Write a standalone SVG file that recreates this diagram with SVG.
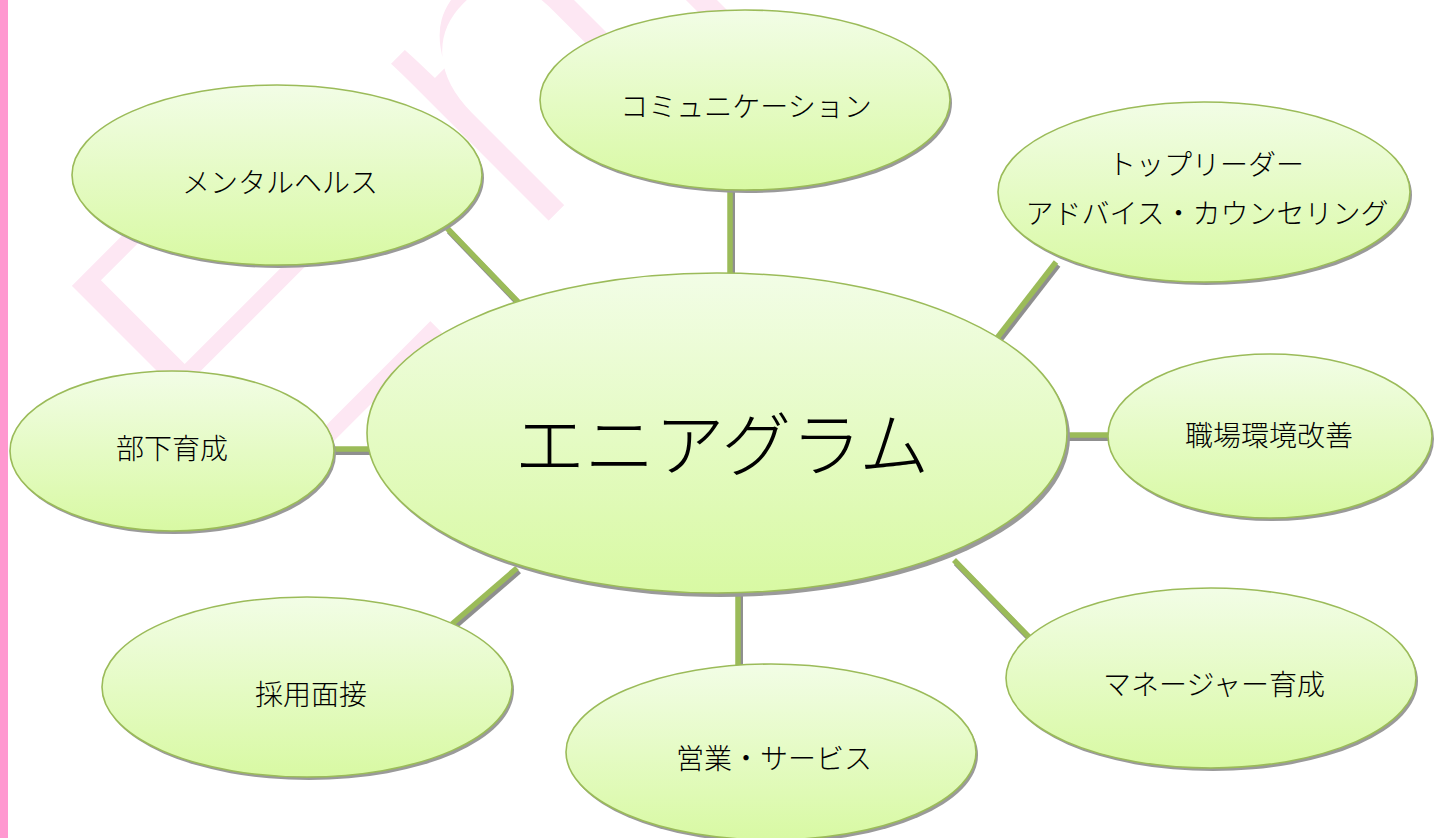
<svg xmlns="http://www.w3.org/2000/svg" width="1443" height="838" viewBox="0 0 1443 838">
<defs>
<linearGradient id="g" x1="0" y1="0" x2="0" y2="1">
<stop offset="0" stop-color="#f2fde6"/>
<stop offset="1" stop-color="#d8f9a3"/>
</linearGradient>
<style>
.wm{font-family:"Liberation Sans",sans-serif;font-size:455px;fill:#fde7f3;stroke:#ffffff;stroke-width:18px}
.sh{fill:#9a9a9a}
.el{fill:url(#g);stroke:#9bbb59;stroke-width:1.6}
.lb{font-family:"Noto Sans CJK JP",sans-serif;font-weight:300;font-size:28px;fill:#000;text-anchor:middle;dominant-baseline:central}
.big{font-size:70px}
.cs{stroke:#8f8f8f;stroke-width:6}
.cl{stroke:#9bbb59;stroke-width:5.5}
</style>
</defs>
<rect width="1443" height="838" fill="#ffffff"/>
<g id="watermark" transform="translate(264,518) rotate(-45)">
<text class="wm" x="-18" y="4">E</text>
<text class="wm" x="371" y="0">nn</text>
</g>
<rect x="0" y="0" width="8" height="838" fill="#ff99d0"/>
<g id="connectors">
<line class="cs" x1="449" y1="231" x2="524" y2="309"/>
<line class="cl" x1="447" y1="228" x2="522" y2="306"/>
<line class="cs" x1="732" y1="190" x2="732" y2="276"/>
<line class="cl" x1="730" y1="190" x2="730" y2="276"/>
<line class="cs" x1="1058" y1="265" x2="999" y2="341"/>
<line class="cl" x1="1056" y1="262" x2="997" y2="338"/>
<line class="cs" x1="1066" y1="438" x2="1110" y2="438"/>
<line class="cl" x1="1066" y1="435" x2="1110" y2="435"/>
<line class="cs" x1="956" y1="563" x2="1031" y2="640"/>
<line class="cl" x1="954" y1="560" x2="1029" y2="637"/>
<line class="cs" x1="740" y1="590" x2="740" y2="672"/>
<line class="cl" x1="738" y1="590" x2="738" y2="672"/>
<line class="cs" x1="519" y1="571" x2="454" y2="627"/>
<line class="cl" x1="517" y1="568" x2="452" y2="624"/>
<line class="cs" x1="332" y1="452" x2="370" y2="452"/>
<line class="cl" x1="332" y1="449" x2="370" y2="449"/>
</g>
<g id="node-mental">
<ellipse class="sh" cx="279" cy="178" rx="205" ry="90"/>
<ellipse class="el" cx="277" cy="175" rx="205" ry="90"/>
<text class="lb" x="280" y="181">メンタルヘルス</text>
</g>
<g id="node-communication">
<ellipse class="sh" cx="747" cy="103" rx="205" ry="90"/>
<ellipse class="el" cx="745" cy="100" rx="205" ry="90"/>
<text class="lb" x="746" y="105">コミュニケーション</text>
</g>
<g id="node-topleader">
<ellipse class="sh" cx="1206" cy="195" rx="206" ry="90"/>
<ellipse class="el" cx="1204" cy="192" rx="206" ry="90"/>
<text class="lb" x="1206" y="163">トップリーダー</text>
<text class="lb" x="1207" y="212">アドバイス・カウンセリング</text>
</g>
<g id="node-workplace">
<ellipse class="sh" cx="1272" cy="439" rx="162" ry="82"/>
<ellipse class="el" cx="1270" cy="436" rx="162" ry="82"/>
<text class="lb" x="1269" y="434">職場環境改善</text>
</g>
<g id="node-manager">
<ellipse class="sh" cx="1213" cy="681" rx="205" ry="90"/>
<ellipse class="el" cx="1211" cy="678" rx="205" ry="90"/>
<text class="lb" x="1214" y="683">マネージャー育成</text>
</g>
<g id="node-sales">
<ellipse class="sh" cx="773" cy="755" rx="205" ry="88"/>
<ellipse class="el" cx="771" cy="752" rx="205" ry="88"/>
<text class="lb" x="774" y="757">営業・サービス</text>
</g>
<g id="node-recruit">
<ellipse class="sh" cx="309" cy="690" rx="205" ry="90"/>
<ellipse class="el" cx="307" cy="687" rx="205" ry="90"/>
<text class="lb" x="311" y="693">採用面接</text>
</g>
<g id="node-subordinate">
<ellipse class="sh" cx="174" cy="454" rx="162" ry="80"/>
<ellipse class="el" cx="172" cy="451" rx="162" ry="80"/>
<text class="lb" x="172" y="447">部下育成</text>
</g>
<g id="node-center">
<ellipse class="sh" cx="720" cy="437" rx="350" ry="160"/>
<ellipse class="el" cx="717" cy="433" rx="350" ry="160"/>
<text class="lb big" x="722" y="440">エニアグラム</text>
</g>
</svg>
